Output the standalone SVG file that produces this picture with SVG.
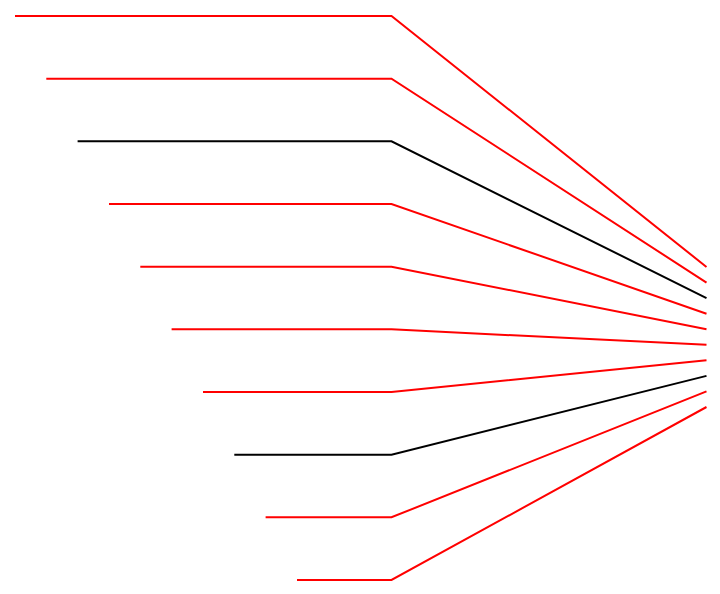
<svg xmlns="http://www.w3.org/2000/svg" width="720" height="594" viewBox="0 0 720 594">
<style>
.c{fill:none;stroke-width:2;stroke-linejoin:miter}
.r{stroke:#ff0000}
.k{stroke:#000000}
</style>
<rect width="720" height="594" fill="#ffffff"/>
<g id="connectors">
<polyline class="c r" points="15,16 391.5,16 706.5,267"/>
<polyline class="c r" points="46.3,78.7 391.5,78.7 706.5,282.6"/>
<polyline class="c k" points="77.6,141.3 391.5,141.3 706.5,298.1"/>
<polyline class="c r" points="109,204 391.5,204 706.5,313.7"/>
<polyline class="c r" points="140.3,266.7 391.5,266.7 706.5,329.2"/>
<polyline class="c r" points="171.6,329.3 391.5,329.3 706.5,344.8"/>
<polyline class="c r" points="203,392 391.5,392 706.5,360.3"/>
<polyline class="c k" points="234.3,454.7 391.5,454.7 706.5,375.9"/>
<polyline class="c r" points="265.6,517.3 391.5,517.3 706.5,391.4"/>
<polyline class="c r" points="297,580 391.5,580 706.5,407"/>
</g>
</svg>
